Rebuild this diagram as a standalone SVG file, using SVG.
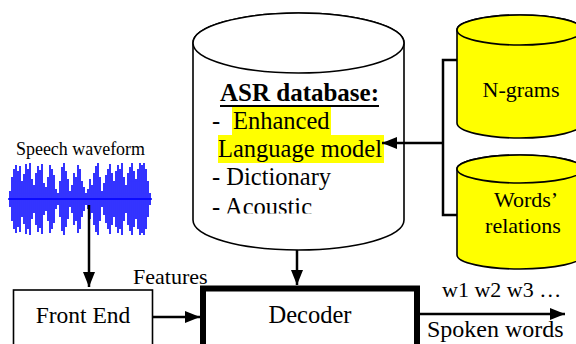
<svg xmlns="http://www.w3.org/2000/svg" width="576" height="344" viewBox="0 0 576 344" font-family="'Liberation Serif', 'Times New Roman', serif">
<style>
text{font-family:'Liberation Serif','Times New Roman',serif;fill:#000}
.cyl{stroke:#000;stroke-width:1.6}
.box{fill:#fff;stroke:#000}
.con{fill:none;stroke:#000;stroke-width:2.5}
.hl{fill:#FFFF00}
</style>
<defs>
<marker id="ah" markerUnits="userSpaceOnUse" markerWidth="16" markerHeight="13" refX="15" refY="6" orient="auto">
<path d="M0,0 L15,6 L0,12 Z" fill="#000"/>
</marker>
<clipPath id="clipAsr"><rect x="190" y="60" width="220" height="153.5"/></clipPath>
</defs>
<rect width="576" height="344" fill="#fff"/>

<g id="waveform">
<text x="16" y="155" font-size="19" textLength="129" lengthAdjust="spacingAndGlyphs">Speech waveform</text>
<path stroke="#0000FF" stroke-width="1.6" fill="none" d="M8,199 L152,199
M10,191 V207 M12,177 V221 M14,169 V229 M16,165 V233 M18,171 V227 M20,166 V232 M22,181 V217 M24,174 V224 M26,164 V234 M28,169 V229 M30,163 V235 M32,179 V219 M34,185 V213 M36,173 V225 M38,166 V232 M40,170 V228 M42,164 V234 M44,183 V215 M46,187 V211 M48,177 V221 M50,165 V233 M52,169 V229 M54,175 V223 M56,189 V209 M58,193 V205 M60,181 V217 M62,167 V231 M64,163 V235 M66,171 V227 M68,179 V219 M70,191 V207 M72,185 V213 M74,173 V225 M76,177 V221 M78,165 V233 M80,169 V229 M82,181 V217 M84,187 V211 M86,193 V205 M88,189 V209 M90,179 V219 M92,185 V213 M94,173 V225 M96,166 V232 M98,163 V235 M100,177 V221 M102,191 V207 M104,183 V215 M106,175 V223 M108,169 V229 M110,164 V234 M112,173 V225 M114,181 V217 M116,171 V227 M118,165 V233 M120,169 V229 M122,163 V235 M124,177 V221 M126,185 V213 M128,173 V225 M130,167 V231 M132,163 V235 M134,171 V227 M136,179 V219 M138,169 V229 M140,163 V235 M142,165 V233 M144,163 V235 M146,169 V229 M148,181 V217 M150,193 V205"/>
</g>

<g id="asr-database">
<path class="cyl" fill="#fff" d="M193,43 L193,220 A105.5,30 0 0 0 404,220 L404,43 A105.5,30 0 0 0 193,43 Z"/>
<ellipse class="cyl" fill="#fff" cx="298.5" cy="43" rx="105.5" ry="30"/>
<rect class="hl" x="232" y="107" width="99" height="28"/>
<rect class="hl" x="218" y="135" width="166" height="28"/>
<text x="220" y="101" font-size="24.5" font-weight="bold" textLength="159" lengthAdjust="spacingAndGlyphs">ASR database:</text>
<line x1="220" y1="106" x2="379" y2="106" stroke="#000" stroke-width="2"/>
<g clip-path="url(#clipAsr)">
<text font-size="24.5"><tspan x="212" y="129">- </tspan><tspan x="233" y="129">Enhanced</tspan></text>
<text x="218" y="157" font-size="24.5">Language model</text>
<text x="212" y="185" font-size="24.5">- Dictionary</text>
<text x="212" y="215" font-size="24.5">- Acoustic</text>
</g>
</g>

<g id="ngrams">
<path class="cyl" fill="#FFFF00" d="M457,30 L457,123 A63,15 0 0 0 583,123 L583,30 A63,15 0 0 0 457,30 Z"/>
<ellipse class="cyl" fill="#FFFF00" cx="520" cy="30" rx="63" ry="15"/>
<text x="521" y="97" font-size="22" text-anchor="middle">N-grams</text>
</g>

<g id="words-relations">
<path class="cyl" fill="#FFFF00" d="M457,169 L457,255 A63,14 0 0 0 583,255 L583,169 A63,14 0 0 0 457,169 Z"/>
<ellipse class="cyl" fill="#FFFF00" cx="520" cy="169" rx="63" ry="14"/>
<text x="526" y="207" font-size="22" text-anchor="middle">Words’</text>
<text x="523" y="233" font-size="22" text-anchor="middle">relations</text>
</g>

<g id="front-end">
<rect class="box" x="13.5" y="290" width="139" height="70" stroke-width="1.6"/>
<text x="83" y="323" font-size="23.5" text-anchor="middle">Front End</text>
</g>

<g id="decoder">
<rect class="box" x="203" y="288.5" width="214" height="70" stroke-width="6"/>
<text x="310" y="323" font-size="24.5" text-anchor="middle">Decoder</text>
</g>

<g id="connectors">
<line class="con" x1="89" y1="205" x2="89" y2="287" marker-end="url(#ah)"/>
<line class="con" x1="153" y1="317" x2="200" y2="317" marker-end="url(#ah)"/>
<line class="con" x1="297" y1="250" x2="297" y2="285" marker-end="url(#ah)"/>
<line class="con" x1="420" y1="314" x2="565" y2="314" marker-end="url(#ah)"/>
<polyline class="con" points="457,60 443,60 443,215 457,215"/>
<line class="con" x1="443" y1="143" x2="382" y2="143" marker-end="url(#ah)"/>
</g>

<g id="labels">
<text x="133" y="284" font-size="22">Features</text>
<text x="442" y="297" font-size="22">w1 w2 w3 …</text>
<text x="427" y="337" font-size="24">Spoken words</text>
</g>
</svg>
